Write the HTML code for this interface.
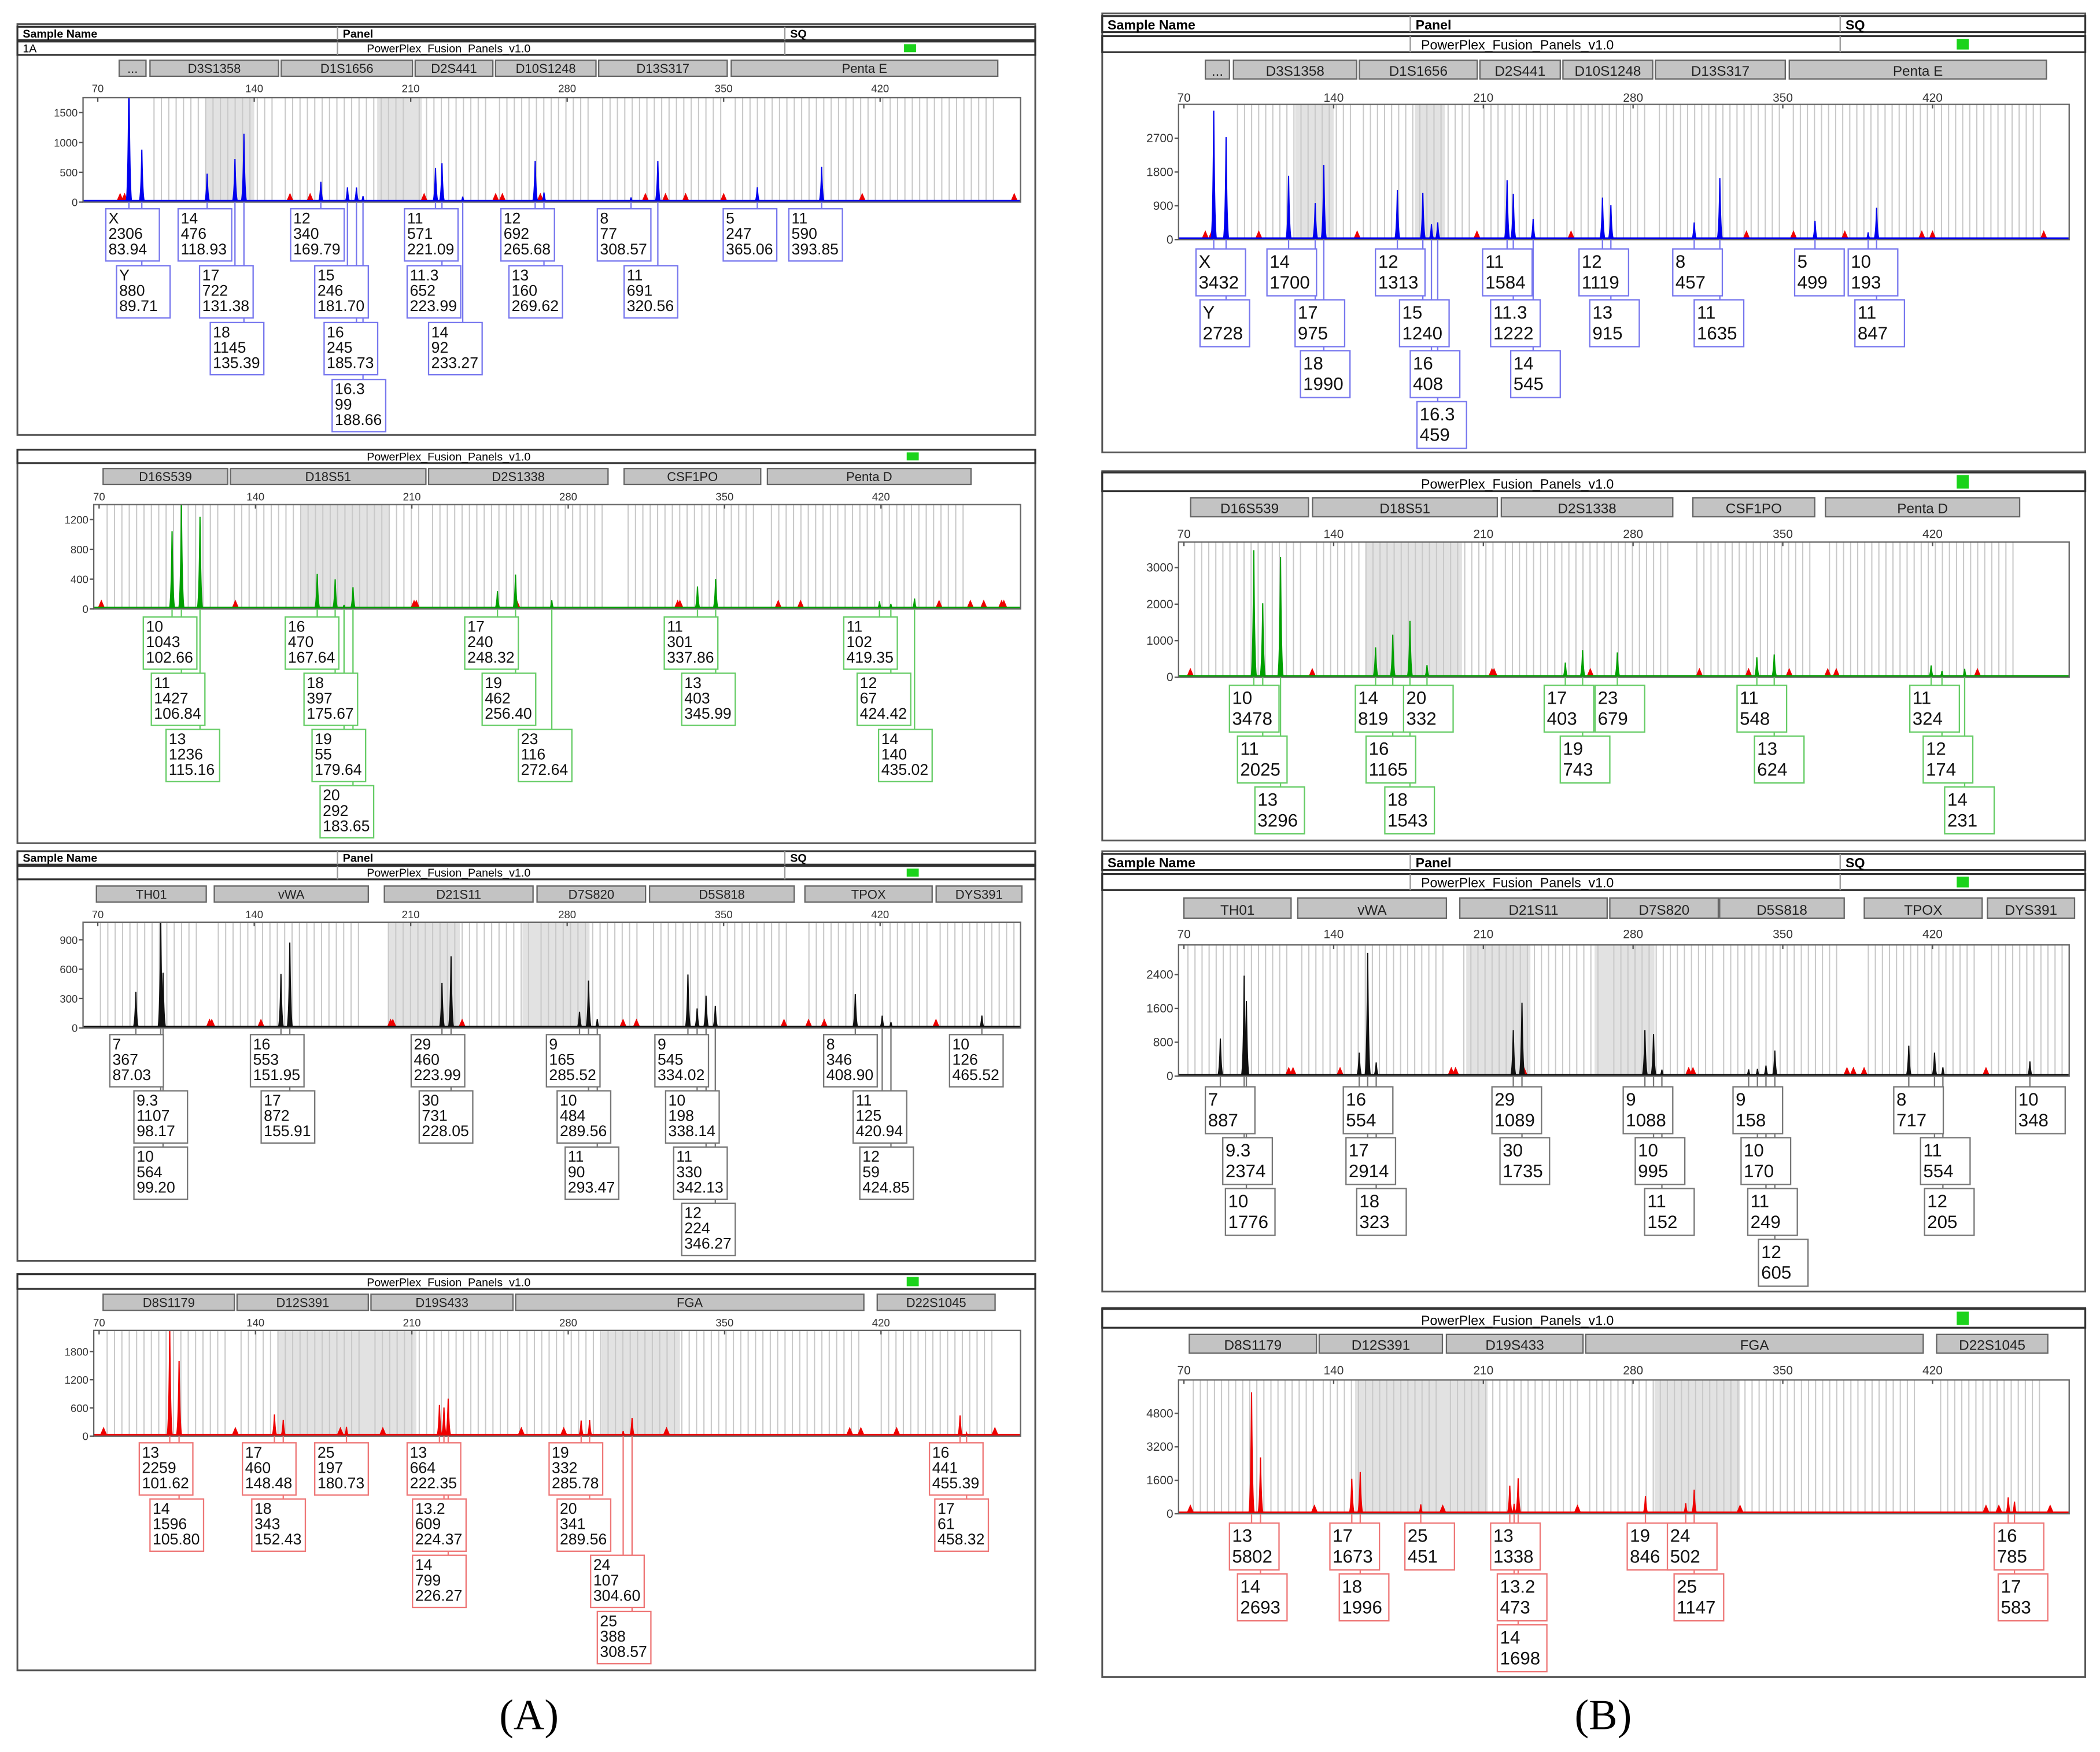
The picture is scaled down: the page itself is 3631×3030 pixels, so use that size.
<!DOCTYPE html>
<html><head><meta charset="utf-8"><style>
html,body{margin:0;padding:0;background:#fff;}
svg{display:block;font-family:"Liberation Sans",sans-serif;}
</style></head><body>
<svg id="root" width="3631" height="3030" viewBox="0 0 1568 1309" preserveAspectRatio="none" xmlns="http://www.w3.org/2000/svg">
<rect x="0" y="0" width="1568" height="1309" fill="#fff"/>
<text x="395" y="1292" font-family="Liberation Serif,serif" font-size="32" text-anchor="middle">(A)</text>
<text x="1197" y="1292" font-family="Liberation Serif,serif" font-size="32" text-anchor="middle">(B)</text>
</svg>
<script>
// ===== DATA =====
const aBlueAlleles=["X","Y","14","17","18","12","15","16","16.3","11","11.3","14","12","13","8","11","5","11"];
const aBlueHeights=[2306,880,476,722,1145,340,246,245,99,571,652,92,692,160,77,691,247,590];
const aBlueSizes=[83.94,89.71,118.93,131.38,135.39,169.79,181.70,185.73,188.66,221.09,223.99,233.27,265.68,269.62,308.57,320.56,365.06,393.85];
const aBlueTicks=[0,500,1000,1500];

const aGreenAlleles=["10","11","13","16","18","19","20","17","19","23","11","13","11","12","14"];
const aGreenHeights=[1043,1427,1236,470,397,55,292,240,462,116,301,403,102,67,140];
const aGreenSizes=[102.66,106.84,115.16,167.64,175.67,179.64,183.65,248.32,256.40,272.64,337.86,345.99,419.35,424.42,435.02];
const aGreenTicks=[0,400,800,1200];

const aBlackAlleles=["7","9.3","10","16","17","29","30","9","10","11","9","10","11","12","8","11","12","10"];
const aBlackHeights=[367,1107,564,553,872,460,731,165,484,90,545,198,330,224,346,125,59,126];
const aBlackSizes=[87.03,98.17,99.20,151.95,155.91,223.99,228.05,285.52,289.56,293.47,334.02,338.14,342.13,346.27,408.90,420.94,424.85,465.52];
const aBlackTicks=[0,300,600,900];

const aRedAlleles=["13","14","17","18","25","13","13.2","14","19","20","24","25","16","17"];
const aRedHeights=[2259,1596,460,343,197,664,609,799,332,341,107,388,441,61];
const aRedSizes=[101.62,105.80,148.48,152.43,180.73,222.35,224.37,226.27,285.78,289.56,304.60,308.57,455.39,458.32];
const aRedTicks=[0,600,1200,1800];

const bBlueAlleles=["X","Y","14","17","18","12","15","16","16.3","11","11.3","14","12","13","8","11","5","10","11"];
const bBlueHeights=[3432,2728,1700,975,1990,1313,1240,408,459,1584,1222,545,1119,915,457,1635,499,193,847];
const bBlueSizes=[83.94,89.71,118.93,131.38,135.39,169.79,181.70,185.73,188.66,221.09,223.99,233.27,265.68,269.62,308.57,320.56,365.06,389.9,393.85];
const bBlueTicks=[0,900,1800,2700];

const bGreenAlleles=["10","11","13","14","16","18","20","17","19","23","11","13","11","12","14"];
const bGreenHeights=[3478,2025,3296,819,1165,1543,332,403,743,679,548,624,324,174,231];
const bGreenSizes=[102.66,106.84,115.16,159.6,167.64,175.67,183.65,248.32,256.40,272.64,337.86,345.99,419.35,424.42,435.02];
const bGreenTicks=[0,1000,2000,3000];

const bBlackAlleles=["7","9.3","10","16","17","18","29","30","9","10","11","9","10","11","12","8","11","12","10"];
const bBlackHeights=[887,2374,1776,554,2914,323,1089,1735,1088,995,152,158,170,249,605,717,554,205,348];
const bBlackSizes=[87.03,98.17,99.20,151.95,155.91,159.9,223.99,228.05,285.52,289.56,293.47,334.02,338.14,342.13,346.27,408.90,420.94,424.85,465.52];
const bBlackTicks=[0,800,1600,2400];

const bRedAlleles=["13","14","17","18","25","13","13.2","14","19","24","25","16","17"];
const bRedHeights=[5802,2693,1673,1996,451,1338,473,1698,846,502,1147,785,583];
const bRedSizes=[101.62,105.80,148.48,152.43,180.73,222.35,224.37,226.27,285.78,304.60,308.57,455.39,458.32];
const bRedTicks=[0,1600,3200,4800];

const axisBp=[70,140,210,280,350,420];

// ===== LAYOUT (annotation positions) =====
const NS="http://www.w3.org/2000/svg";
const root=document.getElementById('root');
function el(tag,attrs,parent,txt){const e=document.createElementNS(NS,tag);for(const k in attrs)e.setAttribute(k,attrs[k]);if(txt!==undefined)e.textContent=txt;(parent||root).appendChild(e);return e;}

const panels=[
 {id:'a-blue',color:'#0000ee',lab:'#7777ee',box:[13,18,760,307],rows:[[20,10,true,'1A'],[31,10,false,'1A']],cols:[252,586],green:675,
  loci:[['...',89,109],['D3S1358',112,208],['D1S1656',210,308],['D2S441',310,368],['D10S1248',370,445],['D13S317',447,543],['Penta E',546,745]],
  locY:45,locH:12,axY:69,plot:[62,73,762,151],bp0:73,ppb:1.669,ymax:1750,ticks:aBlueTicks,
  al:aBlueAlleles,h:aBlueHeights,s:aBlueSizes,three:true,
  lx:[79,87,133,149,157,217,235,242,248,302,304,320,374,380,446,466,540,589],lr:[0,1,0,1,2,0,1,2,3,0,1,2,0,1,0,1,0,0],
  ry:156,rs:42.5,bw:40,bh:39,tri:[80,82,156,165,216,248,251,268,315,324,333,350,412,480],dense:[[118,140],[195,215]]},
 {id:'a-green',color:'#00a000',lab:'#66cc66',box:[13,336,760,294],rows:[[336,10,false,'']],cols:[252,586],green:677,
  loci:[['D16S539',77,170],['D18S51',172,318],['D2S1338',320,454],['CSF1PO',466,568],['Penta D',573,725]],
  locY:350,locH:12,axY:374,plot:[70,377,762,455],bp0:74,ppb:1.668,ymax:1400,ticks:aGreenTicks,
  al:aGreenAlleles,h:aGreenHeights,s:aGreenSizes,three:true,
  lx:[107,113,124,213,227,233,239,347,360,387,496,509,630,640,656],lr:[0,1,2,0,1,2,3,0,1,2,0,1,0,1,2],
  ry:461,rs:42,bw:40,bh:39,tri:[71,131,211,212,257,329,330,374,384,446,460,466,474,475],dense:[[160,200]]},
 {id:'a-black',color:'#111',lab:'#777',box:[13,636,760,306],rows:[[636,10,true,''],[647,10,false,'']],cols:[252,586],green:677,
  loci:[['TH01',72,154],['vWA',160,275],['D21S11',287,398],['D7S820',401,482],['D5S818',485,593],['TPOX',601,696],['DYS391',699,763]],
  locY:662,locH:12,axY:686,plot:[62,689,762,768],bp0:73,ppb:1.669,ymax:1080,ticks:aBlackTicks,
  al:aBlackAlleles,h:aBlackHeights,s:aBlackSizes,three:true,
  lx:[82,100,100,187,195,307,313,408,416,422,489,497,503,509,615,637,642,709],lr:[0,1,2,0,1,0,1,0,1,2,0,1,2,3,0,1,2,0],
  ry:773,rs:42,bw:40,bh:39,tri:[120,121,143,201,202,233,305,311,377,388,395,445],dense:[[200,232],[260,290]]},
 {id:'a-red',color:'#ee0000',lab:'#ee7777',box:[13,952,760,296],rows:[[952,11,false,'']],cols:[252,586],green:677,
  loci:[['D8S1179',77,175],['D12S391',177,275],['D19S433',277,383],['FGA',385,645],['D22S1045',655,743]],
  locY:967,locH:12,axY:991,plot:[70,994,762,1073],bp0:74,ppb:1.668,ymax:2250,ticks:aRedTicks,
  al:aRedAlleles,h:aRedHeights,s:aRedSizes,three:true,
  lx:[104,112,181,188,235,304,308,308,410,416,441,446,694,698],lr:[0,1,0,1,0,0,1,2,0,1,2,3,0,1],
  ry:1078,rs:42,bw:40,bh:39,tri:[72,131,178,197,259,278,324,406,411,427,471],dense:[[150,212],[295,330]]},
 {id:'b-blue',color:'#0000ee',lab:'#7777ee',box:[823,10,734,328],rows:[[12,12,true,''],[27,12,false,'']],cols:[1053,1374],green:1461,
  loci:[['...',900,918],['D3S1358',921,1013],['D1S1656',1015,1103],['D2S441',1105,1165],['D10S1248',1167,1234],['D13S317',1236,1333],['Penta E',1336,1528]],
  locY:45,locH:14,axY:76,plot:[880,78,1545,179],bp0:884,ppb:1.597,ymax:3600,ticks:bBlueTicks,
  al:bBlueAlleles,h:bBlueHeights,s:bBlueSizes,three:false,
  lx:[893,896,946,967,971,1027,1045,1053,1058,1107,1113,1128,1179,1187,1249,1265,1340,1380,1385],lr:[0,1,0,1,2,0,1,2,3,0,1,2,0,1,0,1,0,0,1],
  ry:186,rs:38,bw:37,bh:35,tri:[80,83,105,151,207,251,333,355,379,415,420,472],dense:[[122,140],[178,192]]},
 {id:'b-green',color:'#00a000',lab:'#66cc66',box:[823,352,734,276],rows:[[353,14,false,'']],cols:[1053,1374],green:1461,
  loci:[['D16S539',889,977],['D18S51',980,1118],['D2S1338',1121,1249],['CSF1PO',1264,1355],['Penta D',1363,1508]],
  locY:372,locH:14,axY:402,plot:[880,405,1545,506],bp0:884,ppb:1.597,ymax:3700,ticks:bGreenTicks,
  al:bGreenAlleles,h:bGreenHeights,s:bGreenSizes,three:false,
  lx:[918,924,937,1012,1020,1034,1048,1153,1165,1191,1297,1310,1426,1436,1452],lr:[0,1,2,0,1,2,0,0,1,0,0,1,0,1,2],
  ry:512,rs:38,bw:37,bh:35,tri:[73,130,214,215,260,311,334,353,371,375,441],dense:[[155,200]]},
 {id:'b-black',color:'#111',lab:'#777',box:[823,636,734,329],rows:[[638,12,true,''],[653,12,false,'']],cols:[1053,1374],green:1461,
  loci:[['TH01',884,964],['vWA',969,1080],['D21S11',1090,1200],['D7S820',1202,1283],['D5S818',1284,1377],['TPOX',1392,1480],['DYS391',1484,1549]],
  locY:671,locH:15,axY:701,plot:[880,706,1545,804],bp0:884,ppb:1.597,ymax:3100,ticks:bBlackTicks,
  al:bBlackAlleles,h:bBlackHeights,s:bBlackSizes,three:false,
  lx:[900,913,915,1003,1005,1013,1114,1120,1212,1221,1228,1294,1300,1305,1313,1414,1434,1437,1505],lr:[0,1,2,0,1,2,0,1,0,1,2,0,1,2,3,0,1,2,0],
  ry:812,rs:38,bw:37,bh:35,tri:[119,121,143,195,197,229,306,308,380,383,388,445],dense:[[202,232],[262,290]]},
 {id:'b-red',color:'#ee0000',lab:'#ee7777',box:[823,977,734,276],rows:[[978,14,false,'']],cols:[1053,1374],green:1461,
  loci:[['D8S1179',888,983],['D12S391',985,1077],['D19S433',1080,1182],['FGA',1184,1436],['D22S1045',1446,1529]],
  locY:997,locH:14,axY:1027,plot:[880,1031,1545,1131],bp0:884,ppb:1.597,ymax:6400,ticks:bRedTicks,
  al:bRedAlleles,h:bRedHeights,s:bRedSizes,three:false,
  lx:[918,924,993,1000,1049,1113,1118,1118,1215,1245,1250,1489,1492],lr:[0,1,0,1,0,0,1,2,0,0,1,0,1],
  ry:1138,rs:38,bw:37,bh:35,tri:[73,131,191,254,330,445,451,475],dense:[[150,212],[290,330]]}
];

function drawPanel(p){
  const g=el('g',{});
  
  
  const [bx,by,bw,bh]=p.box;
  el('rect',{x:bx,y:by,width:bw,height:bh,fill:'#fff',stroke:'#555','stroke-width':1.3},g);
  const big=p.id.startsWith('b');
  const fs=big?10:8.5;
  p.rows.forEach(r=>{
    const [ry,rh,isHead,name]=r;
    const rr=el('rect',{x:bx,y:ry,width:bw,height:rh,fill:'#fff',stroke:'#333','stroke-width':1.4},g);
    
    
    if(isHead){
      el('text',{x:bx+4,y:ry+rh-2,'font-size':fs,'font-weight':'bold'},g,'Sample Name');
      el('text',{x:p.cols[0]+4,y:ry+rh-2,'font-size':fs,'font-weight':'bold'},g,'Panel');
      el('text',{x:p.cols[1]+4,y:ry+rh-2,'font-size':fs,'font-weight':'bold'},g,'SQ');
      p.cols.forEach(c=>el('line',{x1:c,y1:ry,x2:c,y2:ry+rh,stroke:'#999'},g));
    }else{
      if(name) el('text',{x:bx+4,y:ry+rh-2,'font-size':fs},g,name);
      const t=el('text',{x:p.cols[0]+(big?80:83),y:ry+rh-2,'font-size':fs,'text-anchor':'middle'},g,'PowerPlex_Fusion_Panels_v1.0');
      
      
      const sq=el('rect',{x:p.green,y:ry+2,width:9,height:rh-4,fill:'#1bd31b'},g);
      
      
      if(p.rows.length>1) p.cols.forEach(c=>el('line',{x1:c,y1:ry,x2:c,y2:ry+rh,stroke:'#999'},g));
    }
  });
  p.loci.forEach(l=>{
    const lg=el('g',{},g);
    
    
    el('rect',{x:l[1],y:p.locY,width:l[2]-l[1],height:p.locH,fill:'#c3c3c3',stroke:'#666','stroke-width':1},lg);
    el('text',{x:(l[1]+l[2])/2,y:p.locY+p.locH-2.5,'font-size':big?10.5:9.5,'text-anchor':'middle',fill:'#222'},lg,l[0]);
  });
  const [x1,y1,x2,y2]=p.plot;
  const px=b=>p.bp0+(b-70)*p.ppb;
  const py=v=>y2-(v/p.ymax)*(y2-y1);
  const clipId='clip-'+p.id;
  const cp=el('clipPath',{id:clipId},g);el('rect',{x:x1,y:y1,width:x2-x1,height:y2-y1+2},cp);
  const pg=el('g',{'clip-path':'url(#'+clipId+')'},g);
  
  
  p.dense.forEach(d=>el('rect',{x:px(d[0]),y:y1,width:px(d[1])-px(d[0]),height:y2-y1,fill:'#e2e2e2'},pg));
  p.loci.forEach(l=>{if(l[0]==='...')return;for(let x=l[1]+3;x<l[2]-2;x+=p.ppb*3.3){el('line',{x1:x,y1:y1,x2:x,y2:y2,stroke:'#c9c9c9','stroke-width':0.9},pg);}});
  p.tri.forEach(b=>{const x=px(b);const t=el('polygon',{points:`${x-3},${y2} ${x},${y2-7} ${x+3},${y2}`,fill:'#ee0000'},pg);
    
    });
  el('line',{x1:x1,y1:y2-1,x2:x2,y2:y2-1,stroke:p.color,'stroke-width':1.3},pg);
  p.s.forEach((s,i)=>{
    const x=px(s),y=py(p.h[i]);
    const pk=el('path',{d:`M${x-2.2},${y2} Q${x-0.6},${y2} ${x},${y} Q${x+0.6},${y2} ${x+2.2},${y2}`,fill:p.color,stroke:p.color,'stroke-width':0.9},pg);
    
    
  });
  el('rect',{x:x1,y:y1,width:x2-x1,height:y2-y1,fill:'none',stroke:'#666','stroke-width':1},g);
  axisBp.forEach(b=>{const x=px(b);
    const t=el('text',{x:x,y:p.axY,'font-size':big?9:8,'text-anchor':'middle',fill:'#333'},g,String(b));
    
    
    el('line',{x1:x,y1:y1,x2:x,y2:y1+3,stroke:'#555'},g);});
  p.ticks.forEach(v=>{const y=py(v);
    const t=el('text',{x:x1-4,y:y+3,'font-size':big?9:8,'text-anchor':'end',fill:'#333'},g,String(v));
    
    
    el('line',{x1:x1-3,y1:y,x2:x1,y2:y,stroke:'#555'},g);});
  p.s.forEach((s,i)=>{
    const x=px(s);const row=p.lr[i];const by2=p.ry+row*p.rs;
    el('line',{x1:x,y1:y2,x2:x,y2:by2,stroke:p.lab,'stroke-width':1},g);
  });
  p.s.forEach((s,i)=>{
    const row=p.lr[i];const by2=p.ry+row*p.rs;const lx=p.lx[i];
    const lg=el('g',{},g);
    
    
    el('rect',{x:lx,y:by2,width:p.bw,height:p.bh,fill:'#fff',stroke:p.lab,'stroke-width':1},lg);
    const lines=p.three?[p.al[i],String(p.h[i]),s.toFixed(2)]:[p.al[i],String(p.h[i])];
    const lh=p.three?11.5:15.5;const f=p.three?11.5:13.5;
    lines.forEach((t,k)=>el('text',{x:lx+2,y:by2+(p.three?11:14)+k*lh,'font-size':f,fill:'#111'},lg,t));
  });
}
panels.forEach(drawPanel);
</script>
</body></html>
